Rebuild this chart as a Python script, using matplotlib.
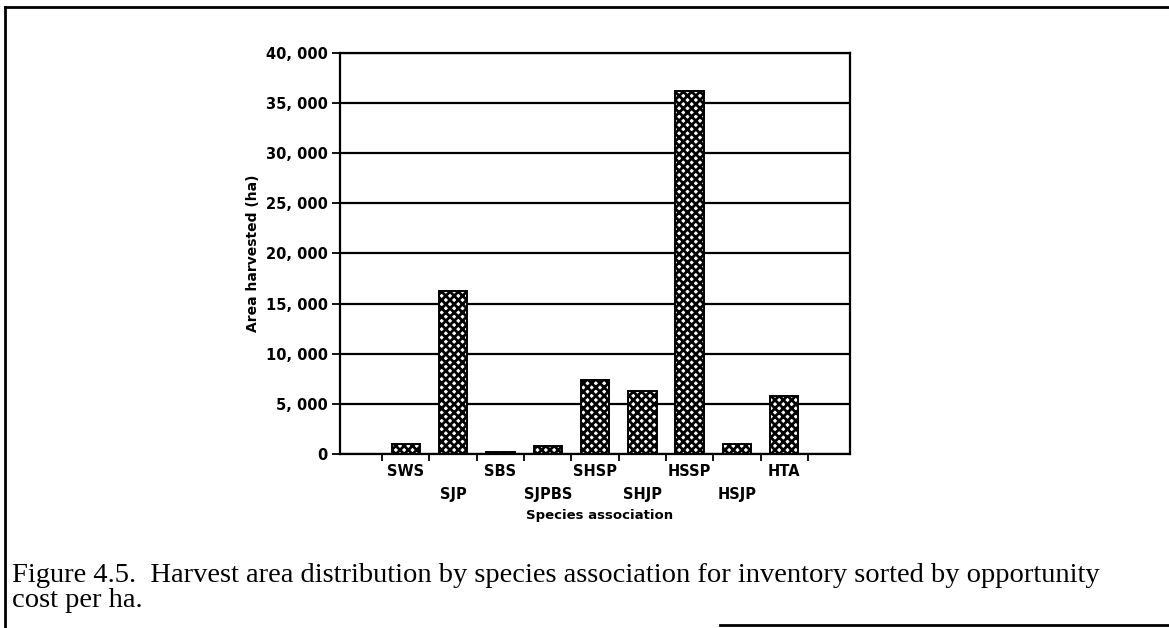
import matplotlib
matplotlib.use('Agg')
from matplotlib import pyplot as plt
from matplotlib.lines import Line2D
from matplotlib.ticker import FuncFormatter

# 数据
species = ['SWS', 'SJP', 'SBS', 'SJPBS', 'SHSP', 'SHJP', 'HSSP', 'HSJP', 'HTA']
area = [1000, 16300, 200, 800, 7400, 6300, 36200, 1000, 5750]
y_ticks = [0, 5000, 10000, 15000, 20000, 25000, 30000, 35000, 40000]

plt.rcParams['font.family'] = ['DejaVu Sans']
plt.rcParams['hatch.linewidth'] = 2.0

fig = plt.figure(figsize=(11.69, 6.28), dpi=100)
ax = fig.add_axes([0.2909, 0.2771, 0.4362, 0.6385])

x = list(range(len(species)))
ax.bar(x, area, width=0.6, color='white', edgecolor='black', hatch='xxxx',
       linewidth=1.4, zorder=3)

# 网格线
ax.set_ylim(0, 40000)
ax.set_yticks(y_ticks)
ax.yaxis.set_major_formatter(FuncFormatter(lambda v, p: '{:,}'.format(int(v)).replace(',', ', ')))
ax.grid(axis='y', color='black', linewidth=1.6, zorder=0)
ax.set_axisbelow(True)

ax.set_xlim(-1.39, len(species) - 1 + 1.39)
ax.set_xticks(x)
# 标签错开两行
labels = [s if i % 2 == 0 else '\n' + s for i, s in enumerate(species)]
ax.set_xticklabels(labels, fontsize=10.5, fontweight='bold', linespacing=1.7)
ax.set_xticks([i + 0.5 for i in range(-1, len(species))], minor=True)
ax.tick_params(axis='x', which='major', length=0, pad=7)
ax.tick_params(axis='x', which='minor', length=5, width=1.3, direction='out')
ax.tick_params(axis='y', length=6, width=1.3, direction='out', labelsize=10.5, pad=3)
for lab in ax.get_yticklabels():
    lab.set_fontweight('bold')

for s in ax.spines.values():
    s.set_linewidth(1.6)

ax.set_ylabel('Area harvested (ha)', fontsize=10, fontweight='bold', labelpad=4)
fig.text(0.513, 1 - 516 / 628, 'Species association', fontsize=9.5, fontweight='bold',
         ha='center', va='center')

# 图注
fig.text(12 / 1169, 1 - 588 / 628,
         'Figure 4.5.  Harvest area distribution by species association for inventory sorted by opportunity\ncost per ha.',
         fontsize=20.5, family='Liberation Serif', ha='left', va='center', linespacing=0.98)

# 边框
fig.add_artist(Line2D([5 / 1169, 1], [1 - 7 / 628, 1 - 7 / 628], color='black', linewidth=2, transform=fig.transFigure))
fig.add_artist(Line2D([5 / 1169, 5 / 1169], [1 - 7 / 628, 0], color='black', linewidth=2, transform=fig.transFigure))
fig.add_artist(Line2D([720 / 1169, 1], [1 - 625 / 628, 1 - 625 / 628], color='black', linewidth=2, transform=fig.transFigure))

fig.savefig('out.png', dpi=100)
